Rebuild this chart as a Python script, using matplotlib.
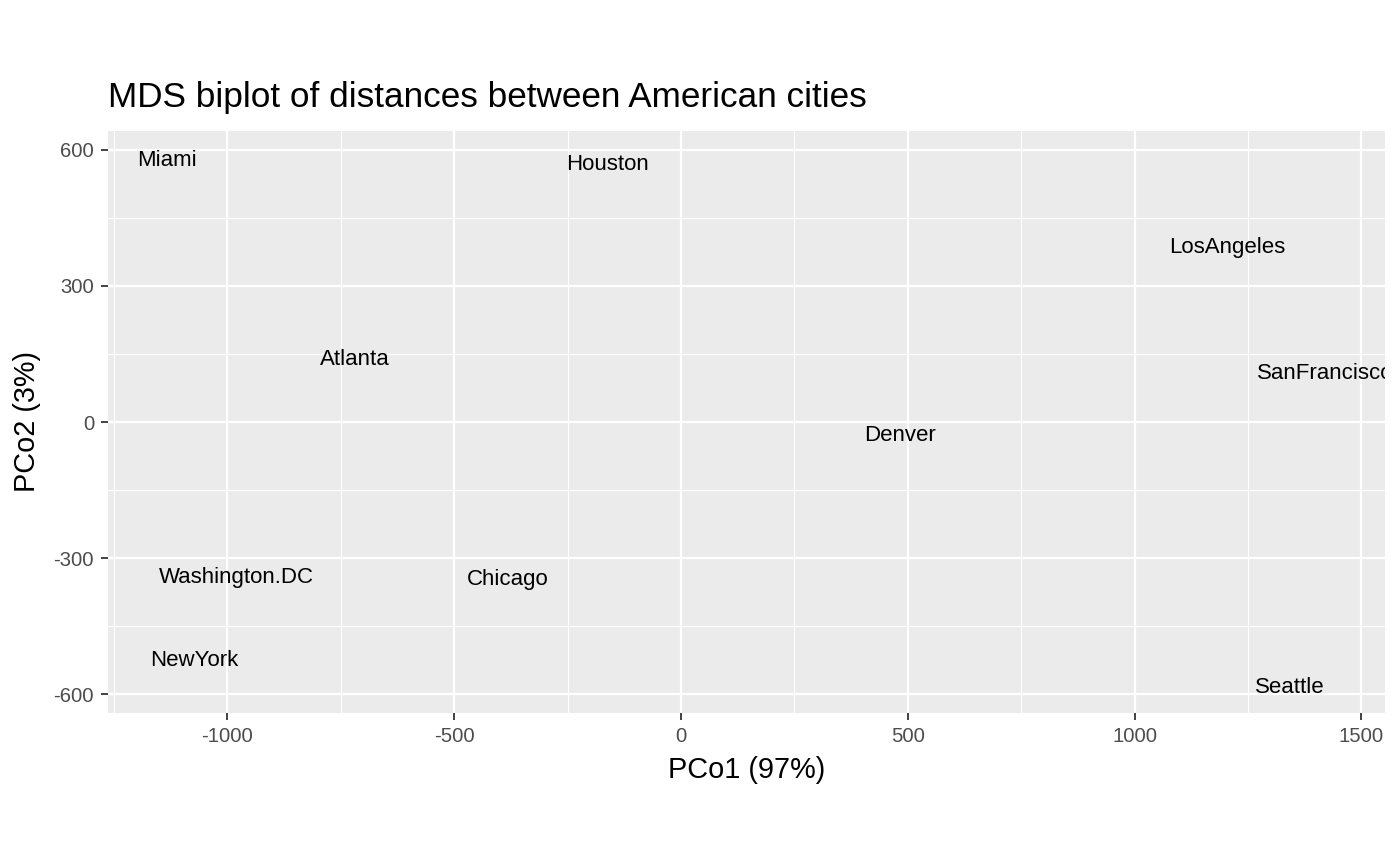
import matplotlib
matplotlib.use("Agg")
import matplotlib.pyplot as plt
from matplotlib.ticker import FixedLocator

plt.rcParams['font.family'] = ['Liberation Sans', 'DejaVu Sans']
plt.rcParams['axes.unicode_minus'] = False

# classical MDS coordinates
cities = ["Atlanta", "Chicago", "Denver", "Houston", "LosAngeles", "Miami",
          "NewYork", "SanFrancisco", "Seattle", "Washington.DC"]
pco1 = [-719, -382, 482, -161, 1204, -1134, -1072, 1421, 1342, -980]
pco2 = [143, -341, -25, 573, 390, 582, -519, 113, -580, -336]

x_ticks = [-1000, -500, 0, 500, 1000, 1500]
y_ticks = [-600, -300, 0, 300, 600]
x_minor = [-1250, -750, -250, 250, 750, 1250]
y_minor = [-450, -150, 150, 450]

fig = plt.figure(figsize=(14, 8.66), dpi=100)
ax = fig.add_axes([108 / 1400, (866 - 713) / 866, 1277 / 1400, 582 / 866])

ax.set_facecolor('#EBEBEB')
ax.set_xlim(-1263, 1552)
ax.set_ylim(-641, 641)

ax.set_xticks(x_ticks)
ax.set_yticks(y_ticks)
ax.xaxis.set_minor_locator(FixedLocator(x_minor))
ax.yaxis.set_minor_locator(FixedLocator(y_minor))
ax.grid(which='major', color='white', linewidth=1.6)
ax.grid(which='minor', color='white', linewidth=0.8)
ax.set_axisbelow(True)
for s in ax.spines.values():
    s.set_visible(False)

ax.tick_params(which='major', length=5, width=1.3, color='#333333',
               labelcolor='#4D4D4D', labelsize=14.6, pad=5)
ax.tick_params(which='minor', length=0)

for name, x, y in zip(cities, pco1, pco2):
    ax.text(x, y, name, ha='center', va='center_baseline', fontsize=16,
            color='black', clip_on=True)

ax.set_xlabel("PCo1 (97%)", fontsize=20.8, labelpad=7)
ax.set_ylabel("PCo2 (3%)", fontsize=20.8, labelpad=9)
fig.text(108 / 1400, 1 - 97 / 866, "MDS biplot of distances between American cities",
         fontsize=25.3, ha='left', va='center')

fig.savefig("out.png", dpi=100)
